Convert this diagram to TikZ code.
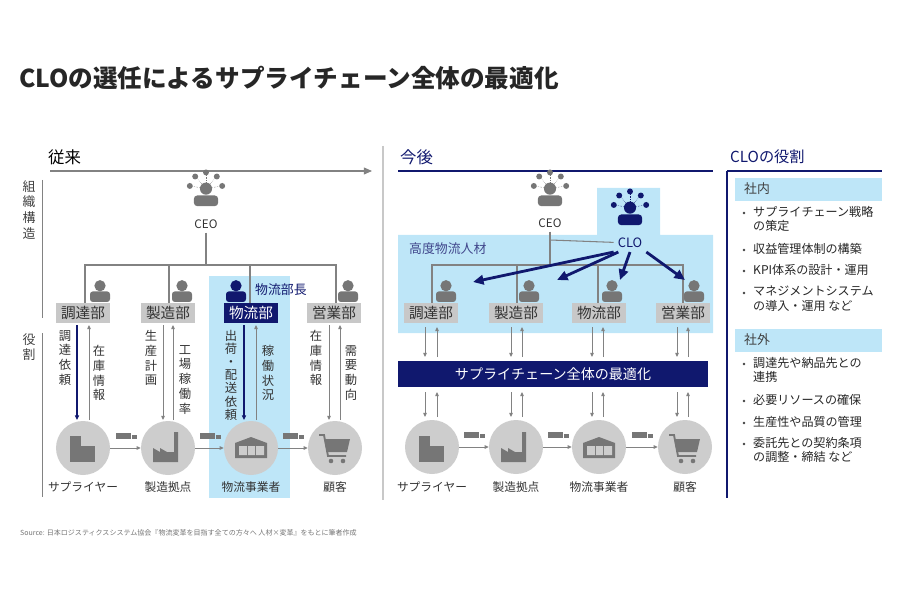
\documentclass[tikz,border=0pt]{standalone}
\usepackage{fontspec}
\setmainfont{Noto Sans CJK JP}
\usetikzlibrary{arrows.meta,calc}
\definecolor{navy}{RGB}{16,24,110}
\definecolor{lblue}{RGB}{190,230,248}
\definecolor{icongray}{RGB}{118,118,118}
\definecolor{circgray}{RGB}{205,205,205}
\definecolor{boxgray}{RGB}{200,200,200}
\definecolor{linegray}{RGB}{130,130,130}

% person icon
\newcommand\person[2]{%
  \begin{scope}[shift={(#1)},scale=1.25]
    \fill[#2] (0,-5) circle (4.5);
    \fill[#2,rounded corners=2.5] (-8,8) rectangle (8,-0.5);
  \end{scope}}
% leader icon with network dots
\newcommand\leader[2]{%
  \begin{scope}[shift={(#1)},scale=1.35]
    \fill[#2] (0,-1) circle (4.5);
    \fill[#2,rounded corners=3] (-9,12) rectangle (9,4);
    \foreach \dx/\dy in {-12/-3,-8/-10,0/-13,8/-10,12/-3}
      {\draw[#2,densely dotted] (0,-1) -- (\dx,\dy); \fill[#2] (\dx,\dy) circle (2.2);}
  \end{scope}}
\newcommand\truck[1]{%
  \begin{scope}[shift={(#1)}]
    \fill[icongray] (-10,-3.5) rectangle (5,3);
    \fill[icongray] (6,-1.5) rectangle (11,3);
  \end{scope}}

\tikzset{
  dept/.style={fill=boxgray,minimum width=1.62cm,minimum height=0.62cm,inner sep=0pt,font=\fontsize{12.5}{13}\selectfont,text=black!80},
  place/.style={circle,fill=circgray,minimum size=1.62cm,inner sep=0pt},
  plabel/.style={font=\fontsize{10}{11}\selectfont,text=black!80},
  vlabel/.style={font=\fontsize{10.5}{12.6}\selectfont,align=center,anchor=north,inner sep=0pt,text=black!80},
  tree/.style={linegray,line width=0.9pt},
  flow/.style={-{Triangle[length=3.5pt,width=3pt]},linegray,line width=0.8pt},
  order/.style={-{Triangle[length=4pt,width=3.5pt]},navy,line width=1pt},
  push/.style={-{Triangle[length=9pt,width=8pt]},navy,line width=2.4pt},
  bullet/.style={anchor=north west,font=\fontsize{10.3}{12.4}\selectfont,align=left,inner sep=0pt,text=black!85},
}

\begin{document}
\begin{tikzpicture}[x=0.03cm,y=-0.03cm]
\useasboundingbox (0,0) rectangle (900,600);

\node[anchor=west,font=\bfseries\fontsize{21}{24}\selectfont,text=black!85] (title) at (15,78) {CLOの選任によるサプライチェーン全体の最適化};

% ---------- left: before ----------
\node[anchor=west,font=\fontsize{14}{16}\selectfont] (before) at (44,157) {従来};
\coordinate (ta) at (50,171); \coordinate (tb) at (372,171);
\draw[-{Triangle[length=7pt,width=6pt]},linegray,line width=0.9pt] (ta) -- (tb);
\fill[lblue] (209,276) rectangle (290,498);
\draw[linegray,line width=0.8pt] (42,180) -- (42,318);
\draw[linegray,line width=0.8pt] (42,333) -- (42,497);
\node[vlabel,font=\fontsize{11}{13.5}\selectfont,text=black!75] (org) at (29,180) {組\\織\\構\\造};
\node[vlabel,font=\fontsize{11}{13.5}\selectfont,text=black!75] (role) at (29,333) {役\\割};
\draw[boxgray,line width=1pt] (383,146) -- (383,500);

\leader{206,190}{icongray}
\node[font=\fontsize{10}{11}\selectfont,text=black!80] (ceoA) at (206,224) {CEO};
\node[dept] (d1) at (83,313) {調達部};
\node[dept] (d2) at (168,313) {製造部};
\node[dept,fill=navy,text=white] (d3) at (251,313) {物流部};
\node[dept] (d4) at (334,313) {営業部};
\draw[tree] (ceoA) -- (206,265);
\draw[tree] (85,303) |- (336,265) -- (336,303);
\draw[tree] (169,265) -- (169,303);
\draw[tree] (250,265) -- (250,303);
\person{100,292}{icongray}
\person{182,292}{icongray}
\person{236,292}{navy}
\person{348,292}{icongray}
\node[anchor=west,font=\fontsize{11}{12}\selectfont,text=navy] (head) at (251,290) {物流部長};

\foreach \n/\x/\t in {p1/83/サプライヤー,p2/168/製造拠点,p3/251/物流事業者,p4/335/顧客}{
  \node[place] (\n) at (\x,448) {};
  \node[plabel] at (\x,487) {\t};
}
\foreach \a/\b in {p1/p2,p2/p3,p3/p4}{
  \draw[flow] (\a) -- (\b);
  \truck{$(\a)!0.5!(\b)+(0,-12)$}
}
\draw[order] (77,325) -- (77,420);
\draw[flow] (89,420) -- (89,325);
\draw[flow] (163,325) -- (163,420);
\draw[flow] (173,420) -- (173,325);
\draw[order] (244,325) -- (244,420);
\draw[flow] (256,420) -- (256,325);
\draw[flow] (329,325) -- (329,420);
\draw[flow] (340,420) -- (340,325);
\node[vlabel] (r1) at (65,330) {調\\達\\依\\頼};
\node[vlabel] (r2) at (99,345) {在\\庫\\情\\報};
\node[vlabel] (r3) at (151,330) {生\\産\\計\\画};
\node[vlabel] (r4) at (185,345) {工\\場\\稼\\働\\率};
\node[vlabel,font=\fontsize{10.5}{11.2}\selectfont] (r5) at (231,330) {出\\荷\\・\\配\\送\\依\\頼};
\node[vlabel] (r6) at (268,345) {稼\\働\\状\\況};
\node[vlabel] (r7) at (316,330) {在\\庫\\情\\報};
\node[vlabel] (r8) at (351,345) {需\\要\\動\\向};

% ---------- right: after ----------
\node[anchor=west,font=\fontsize{14}{16}\selectfont,text=navy] (after) at (396,157) {今後};
\draw[navy,line width=1.3pt] (398,171) -- (713,171);
\fill[lblue] (398,235) -- (597,235) -- (597,188) -- (660,188) -- (660,235) -- (713,235) -- (713,333) -- (398,333) -- cycle;
\node[anchor=west,font=\fontsize{11}{12}\selectfont,text=navy!80] (talent) at (405,249) {高度物流人材};

\leader{550,190}{icongray}
\node[font=\fontsize{10}{11}\selectfont,text=black!80] (ceoB) at (550,223) {CEO};
\leader{630,209}{navy}
\node[font=\fontsize{11}{12}\selectfont,text=navy] (clo) at (630,243) {CLO};
\node[dept] (e1) at (431,313) {調達部};
\node[dept] (e2) at (516,313) {製造部};
\node[dept] (e3) at (599,313) {物流部};
\node[dept] (e4) at (683,313) {営業部};
\draw[tree] (ceoB) -- (550,265);
\draw[tree] (550,240) -- (clo);
\draw[tree] (432,303) |- (683,265) -- (683,303);
\draw[tree] (517,265) -- (517,303);
\draw[tree] (598,265) -- (598,303);
\person{446,292}{icongray}
\person{529,292}{icongray}
\person{612,292}{icongray}
\person{694,292}{icongray}
\draw[push] (clo.south west) -- (473,282);
\draw[push] ([xshift=4]clo.south west) -- (557,280);
\draw[push] (clo.south) -- (620,280);
\draw[push] (clo.south east) -- (685,280);

\node[fill=navy,text=white,minimum width=9.3cm,minimum height=0.78cm,inner sep=0pt,font=\fontsize{12}{13}\selectfont] (opt) at (553,374) {サプライチェーン全体の最適化};

\foreach \n/\x/\t in {q1/432/サプライヤー,q2/516/製造拠点,q3/599/物流事業者,q4/685/顧客}{
  \node[place] (\n) at (\x,447) {};
  \node[plabel] at (\x,487) {\t};
}
\foreach \a/\b in {q1/q2,q2/q3,q3/q4}{
  \draw[flow] (\a) -- (\b);
  \truck{$(\a)!0.5!(\b)+(0,-12)$}
}
\foreach \x in {425,511,592,677}{
  \draw[flow] (\x,327) -- (\x,357);
  \draw[flow] (\x,392) -- (\x,417);
}
\foreach \x in {437,522,603,688}{
  \draw[flow] (\x,357) -- (\x,327);
  \draw[flow] (\x,417) -- (\x,392);
}

% icons inside the circles
\foreach \x in {83,432}{
  \fill[icongray] (\x-13,436) rectangle (\x-2,462);
  \fill[icongray] (\x-2,446) rectangle (\x+12,462);
}
\foreach \x in {168,516}{
  \fill[icongray] (\x-15,462) -- (\x-15,448) -- (\x-8,452) -- (\x-8,448) -- (\x-1,452) -- (\x+6,452) -- (\x+6,432) -- (\x+10,432) -- (\x+10,462) -- cycle;
}
\foreach \x in {251,599}{
  \fill[icongray] (\x-16,443) -- (\x,437) -- (\x+16,443) -- (\x+16,458) -- (\x-16,458) -- cycle;
  \fill[circgray] (\x-12,446) rectangle (\x-4,455) (\x-3,446) rectangle (\x+4,455) (\x+5,446) rectangle (\x+13,455);
}
\foreach \x in {335,685}{
  \draw[icongray,line width=1.6pt] (\x-16,435) -- (\x-11,435) -- (\x-7,456) -- (\x+11,456);
  \fill[icongray] (\x-10,439) -- (\x+15,439) -- (\x+12,452) -- (\x-8,452) -- cycle;
  \fill[icongray] (\x-4,461) circle (2.3) (\x+8,461) circle (2.3);
}

% ---------- CLO role panel ----------
\node[anchor=west,font=\fontsize{13}{15}\selectfont,text=navy] (rolehd) at (726,157) {CLOの役割};
\draw[navy,line width=1.3pt] (727,171) -- (882,171);
\draw[navy,line width=1.3pt] (727,171) -- (727,498);
\fill[lblue] (735,178) rectangle (882,201);
\node[anchor=west,font=\fontsize{11}{12}\selectfont,text=black!75] (inside) at (740,189) {社内};
\fill[lblue] (735,329) rectangle (882,352);
\node[anchor=west,font=\fontsize{11}{12}\selectfont,text=black!75] (outside) at (740,340) {社外};
\foreach \y/\t in {206/{サプライチェーン戦略\\の策定},243/{収益管理体制の構築},264/{KPI体系の設計・運用},286/{マネジメントシステム\\の導入・運用 など},
                   357/{調達先や納品先との\\連携},394/{必要リソースの確保},416/{生産性や品質の管理},437/{委託先との契約条項\\の調整・締結 など}}{
  \fill[black!75] (744,\y+7) circle (1.4);
  \node[bullet] at (753,\y) {\t};
}

\node[anchor=west,font=\fontsize{6}{7}\selectfont,text=black!55] (src) at (16,533) {Source: 日本ロジスティクスシステム協会『物流変革を目指す全ての方々へ 人材×変革』をもとに筆者作成};
\end{tikzpicture}
\end{document}
